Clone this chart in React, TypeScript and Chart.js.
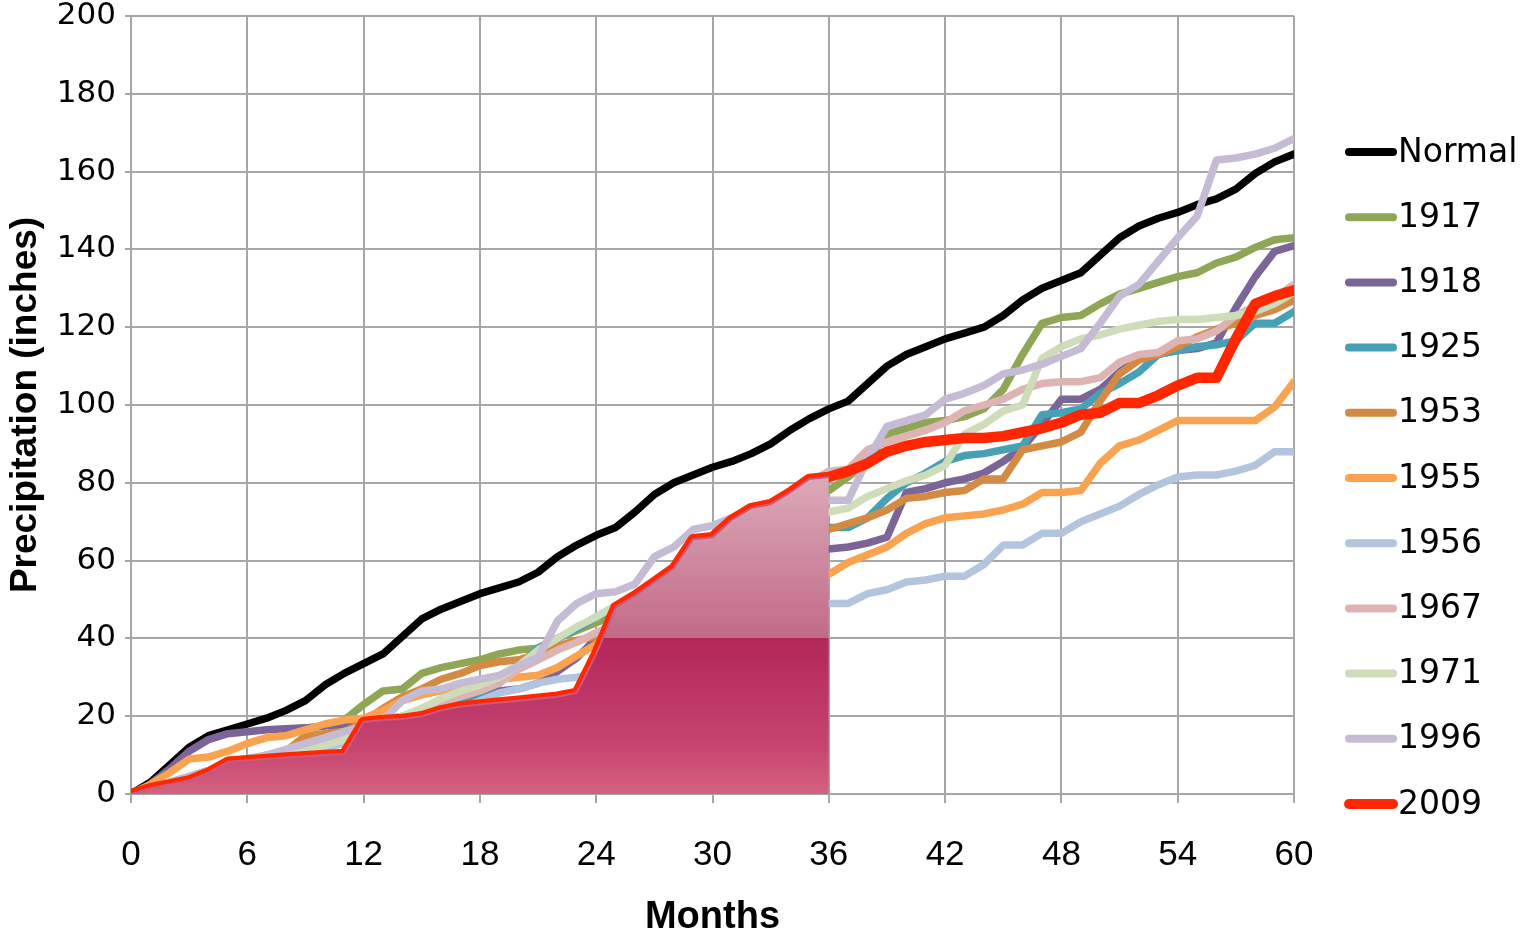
import React, { useEffect, useRef } from "react";
import { Chart, registerables } from "chart.js";

Chart.register(...registerables);

// ---- data ----
const MONTHS = [
  0, 1, 2, 3, 4, 5, 6, 7, 8, 9, 10, 11, 12, 13, 14, 15, 16, 17, 18, 19, 20,
  21, 22, 23, 24, 25, 26, 27, 28, 29, 30, 31, 32, 33, 34, 35, 36, 37, 38, 39, 40,
  41, 42, 43, 44, 45, 46, 47, 48, 49, 50, 51, 52, 53, 54, 55, 56, 57, 58, 59, 60,
];
const X_TICK_STEP = 6;
const Y_TICK_STEP = 20;
const AREA_END_MONTH = 36;

const NORMAL = [0, 3, 7.5, 12, 15, 16.5, 18, 19.5, 21.5, 24, 28, 31, 33.5, 36, 40.5, 45, 47.5, 49.5, 51.5, 53, 54.5, 57, 61, 64, 66.5, 68.5, 72.5, 77, 80, 82, 84, 85.5, 87.5, 90, 93.5, 96.5, 99, 101, 105.5, 110, 113, 115, 117, 118.5, 120, 123, 127, 130, 132, 134, 138.5, 143, 146, 148, 149.5, 151.5, 153, 155.5, 159.5, 162.5, 164.5];
const Y1917 = [0, 1.5, 3, 4, 5, 6, 7, 8, 9, 11, 14.5, 19, 23, 26.5, 27, 31, 32.5, 33.5, 34.5, 36, 37, 37.5, 40, 42, 44, 46, 48, 50, 53, 56, 60, 63, 66, 70, 73, 76, 78, 81.5, 85.5, 92.5, 94, 95.5, 96, 97, 99, 104, 113, 121, 122.5, 123, 126, 128.5, 130, 131.5, 133, 134, 136.5, 138, 140.5, 142.5, 143];
const Y1918 = [0, 2.5, 6.5, 11, 14, 15.5, 16, 16.5, 16.8, 17, 17.5, 18, 18.5, 19, 20, 21, 22.5, 24.5, 25.5, 26.5, 27, 28.5, 31.5, 35, 40, 44, 47, 50, 52, 54, 56, 57.5, 59, 60.5, 61.5, 62.5, 63, 63.5, 64.5, 66, 77.5, 78.5, 80, 81, 82.5, 85.5, 89, 95, 101.5, 101.5, 104, 108.5, 112, 113, 114, 114.5, 116, 125, 133, 139.5, 141];
const Y1925 = [0, 1.5, 3, 4.5, 6, 7, 8.5, 10, 11, 12, 13.5, 15, 16.5, 18, 19.5, 21, 23, 24.5, 26, 28.5, 33, 37.5, 40, 42.5, 45.5, 47.5, 50, 52, 54, 56, 58, 60, 62, 64, 66, 67.5, 68.5, 68.5, 71, 76, 80, 82.5, 85.5, 87, 87.5, 88.5, 89.5, 97.5, 98, 99, 103, 105.5, 108.5, 113, 114, 115, 115.5, 116.5, 121, 121, 124];
const Y1953 = [0, 1, 2, 3, 4, 5, 6, 8, 11, 15, 15.5, 16, 18.5, 22, 25, 27, 29.5, 31, 33, 34, 34.5, 36, 38, 39.5, 40.5, 42, 44, 46, 48, 50, 52, 54, 56.5, 59, 62, 65, 68, 69.5, 71, 73, 76, 76.5, 77.5, 78, 81, 81, 88.5, 89.5, 90.5, 93, 101, 108, 111.5, 113, 115, 117.5, 119.5, 121, 123, 124.5, 127];
const Y1955 = [0, 2.5, 5.5, 9, 9.5, 11, 13, 14.5, 15, 16.5, 18, 19, 19.5, 21.5, 24, 25.5, 26.5, 27, 28, 29.5, 30, 30.5, 32.5, 35.5, 38.5, 42, 44, 46, 47.5, 49, 50, 51, 52, 53, 54, 55, 56.5, 59.5, 61.5, 63.5, 67, 69.5, 71, 71.5, 72, 73, 74.5, 77.5, 77.5, 78, 85, 89.5, 91, 93.5, 96, 96, 96, 96, 96, 99.5, 106];
const Y1956 = [0, 1, 2, 3.5, 5, 6.5, 8, 9, 10, 11, 12, 13, 14, 15, 16.5, 18, 20, 22, 24, 26, 27, 28.5, 29.5, 30, 31, 33, 35, 37, 39, 41, 43, 44.5, 45.5, 46.5, 47.5, 48.5, 49, 49, 51.5, 52.5, 54.5, 55, 56, 56, 59, 64, 64, 67, 67, 70, 72, 74, 77, 79.5, 81.5, 82, 82, 83, 84.5, 88, 88];
const Y1967 = [0, 1.5, 3, 4.5, 6, 7.5, 9, 10, 11, 12.5, 14, 15.5, 17, 18.5, 20, 22, 23.5, 25, 26.5, 28.5, 32, 34.5, 37, 39, 41.5, 44, 47, 50, 54, 57, 60, 64, 68, 72, 76, 80, 83, 83.5, 88.5, 90.5, 92, 93.5, 95.5, 98.5, 100, 101.5, 104, 105.5, 106, 106, 107, 111, 113, 113.5, 116.5, 117, 119, 123, 125.5, 127.5, 131];
const Y1971 = [0, 1.5, 3, 4, 5.5, 7, 8, 9, 10, 11, 12.5, 14, 16, 18, 20, 22, 24.5, 26.5, 28, 30, 33, 37, 40, 43, 45.5, 48.5, 50, 53, 56, 58.5, 61, 63, 65, 67, 69, 71, 72.5, 73.5, 76.5, 78.5, 80.5, 82, 84.5, 92.5, 95, 98.5, 100, 112, 115, 117, 118, 119.5, 120.5, 121.5, 122, 122, 122.5, 123, 124, 126, 129];
const Y1996 = [0, 1.5, 3, 4.5, 6, 7.5, 9, 10, 11.5, 13, 14.5, 16, 17.5, 19, 24, 26.5, 27, 28.5, 29.5, 30.5, 33, 35, 44.5, 49, 51.5, 52, 54, 61, 63.5, 68, 69, 71, 72.5, 73.5, 74.5, 75, 75.5, 75.5, 86, 94.5, 96, 97.5, 101.5, 103, 105, 108, 109, 110.5, 112.5, 114.5, 121, 128, 131, 137, 143, 148.5, 163, 163.5, 164.5, 166, 168.5];
const Y2009 = [0, 1.5, 2.5, 3.5, 5.5, 8.3, 8.7, 9, 9.4, 9.7, 10, 10.3, 18.5, 19, 19.3, 20, 21.5, 22.5, 23, 23.5, 24, 24.5, 25, 26, 36, 48, 51, 54.5, 58, 65.5, 66, 70.5, 73.5, 74.5, 77.5, 81, 81.5, 83, 85, 88, 89.5, 90.5, 91, 91.5, 91.5, 92, 93, 94, 95.5, 97.5, 98, 100.5, 100.5, 102.5, 105, 107, 107, 117, 126, 128, 129.5];

const SERIES_NAMES = ["Normal", "1917", "1918", "1925", "1953", "1955", "1956", "1967", "1971", "1996", "2009"];
const SERIES_VALUES = [NORMAL, Y1917, Y1918, Y1925, Y1953, Y1955, Y1956, Y1967, Y1971, Y1996, Y2009];
const SERIES_COLORS = ["#000000", "#8ea655", "#7b6497", "#46a1b6", "#d38a42", "#f9a24f", "#b3c4de", "#ddb4b3", "#cedcba", "#c5bbd4", "#ff2600"];
const SERIES_WIDTHS = [7.5, 7.5, 7.5, 7.5, 7.5, 7.5, 7.5, 7.5, 7.5, 7.5, 10.5];

const X_TITLE = "Months";
const Y_TITLE = "Precipitation (inches)";

const ARIAL = "'Liberation Sans', Arial, sans-serif";
const WIDE = "'DejaVu Sans', Verdana, sans-serif";

const legendPlugin = {
  id: "sideLegend",
  afterDraw(chart: any) {
    const { ctx, chartArea } = chart;
    const n = SERIES_NAMES.length;
    const step = 65.2;
    const cy = chart.height / 2 + 9;
    const x0 = chartArea.right + 55;
    const len = 44;
    ctx.save();
    for (let i = 0; i < n; i++) {
      const y = cy + (i - (n - 1) / 2) * step;
      ctx.beginPath();
      ctx.strokeStyle = SERIES_COLORS[i];
      ctx.lineWidth = SERIES_WIDTHS[i] >= 10 ? 10 : 8;
      ctx.lineCap = "round";
      ctx.moveTo(x0, y);
      ctx.lineTo(x0 + len, y);
      ctx.stroke();
      ctx.fillStyle = "#000";
      ctx.font = `33px ${WIDE}`;
      ctx.textAlign = "left";
      ctx.textBaseline = "middle";
      ctx.fillText(SERIES_NAMES[i], x0 + len + 5, y + 1);
    }
    ctx.restore();
  },
};

export default function App() {
  const ref = useRef<HTMLCanvasElement | null>(null);

  useEffect(() => {
    document.body.style.margin = "0";
    const canvas = ref.current;
    if (!canvas) return;

    const toPoints = (vals: number[]) => vals.map((v, i) => ({ x: MONTHS[i], y: v }));
    const n = SERIES_NAMES.length;

    const lineSets: any[] = SERIES_VALUES.map((vals, i) => ({
      label: SERIES_NAMES[i],
      data: toPoints(vals),
      borderColor: SERIES_COLORS[i],
      backgroundColor: SERIES_COLORS[i],
      borderWidth: SERIES_WIDTHS[i],
      pointRadius: 0,
      tension: 0,
      fill: false,
      borderJoinStyle: "round",
      borderCapStyle: "round",
      order: n - i + 1,
    }));

    const areaData = Y2009.map((v, i) => ({ x: MONTHS[i], y: v })).filter((p) => p.x <= AREA_END_MONTH);

    const areaSet: any = {
      label: "2009 (to date)",
      data: areaData,
      borderColor: "#c85a80",
      borderWidth: 2,
      pointRadius: 0,
      tension: 0,
      fill: "origin",
      order: 0,
      backgroundColor: (c: any) => {
        const chart = c.chart;
        const { chartArea, scales } = chart;
        if (!chartArea || !scales || !scales.y) return "#c04070";
        const ys = scales.y;
        const top = ys.getPixelForValue(82);
        const mid = ys.getPixelForValue(40);
        const bot = ys.getPixelForValue(0);
        const g = chart.ctx.createLinearGradient(0, top, 0, bot);
        const f = (mid - top) / (bot - top);
        g.addColorStop(0, "#dcaab9");
        g.addColorStop(Math.max(0, f - 0.002), "#c26a88");
        g.addColorStop(f, "#b3265a");
        g.addColorStop(0.85, "#c64470");
        g.addColorStop(1, "#d4627f");
        return g;
      },
    };

    const gridColor = "#a6a6a6";

    const chart = new Chart(canvas, {
      type: "line",
      data: { datasets: [...lineSets, areaSet] },
      options: {
        responsive: false,
        animation: false,
        events: [],
        layout: { padding: { left: 0, right: 232, top: 16, bottom: 0 } },
        plugins: { legend: { display: false }, tooltip: { enabled: false } },
        scales: {
          x: {
            type: "linear",
            min: 0,
            max: 60,
            ticks: {
              stepSize: X_TICK_STEP,
              color: "#000",
              font: { family: ARIAL, size: 35, lineHeight: 1 },
              padding: 35,
              maxRotation: 0,
              autoSkip: false,
            },
            grid: { color: gridColor, lineWidth: 2, tickLength: 9, drawTicks: true },
            border: { color: gridColor, width: 2 },
            title: {
              display: true,
              text: X_TITLE,
              color: "#000",
              font: { family: ARIAL, size: 38, weight: "bold", lineHeight: 1 },
              padding: { top: 0, bottom: 1 },
            },
            afterFit: (s: any) => {
              s.height = 144;
            },
          },
          y: {
            min: 0,
            max: 200,
            ticks: {
              stepSize: Y_TICK_STEP,
              color: "#000",
              font: { family: WIDE, size: 31, lineHeight: 1 },
              padding: 9,
            },
            grid: { color: gridColor, lineWidth: 2, tickLength: 6, drawTicks: true },
            border: { color: gridColor, width: 2 },
            title: {
              display: true,
              text: Y_TITLE,
              color: "#000",
              font: { family: ARIAL, size: 37, weight: "bold", lineHeight: 1 },
              padding: { top: 7, bottom: 0 },
            },
            afterFit: (s: any) => {
              s.width = 131;
              s.paddingTop = 0;
              s.paddingBottom = 0;
            },
          },
        },
      } as any,
      plugins: [legendPlugin],
    });

    return () => chart.destroy();
  }, []);

  return (
    <div style={{ width: 1526, height: 938 }}>
      <canvas ref={ref} width={1526} height={938} style={{ display: "block" }} />
    </div>
  );
}
